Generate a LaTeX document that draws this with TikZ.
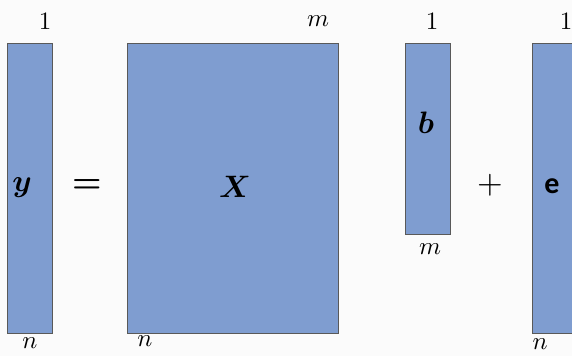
\documentclass[tikz,border=0pt]{standalone}
\usepackage{graphicx}
\usepackage{amsmath,bm}
\usepackage{fontspec}
\newfontfamily\carlito{Carlito}
\newcommand{\mainsz}[1]{\scalebox{3.1}{#1}}
\newcommand{\opsz}[1]{\scalebox{3.3}{#1}}
\newcommand{\dimsz}[1]{\scalebox{2.5}{#1}}
\begin{document}
\begin{tikzpicture}[x=1pt,y=-1pt,
  mat/.style={draw=black!65,line width=0.8pt,fill=matblue}]
\definecolor{matblue}{HTML}{7F9DD0}
\definecolor{bgcol}{HTML}{FBFBFB}
\useasboundingbox (0,0) rectangle (572,356);
\fill[bgcol] (0,0) rectangle (572,356);
\clip (0,0) rectangle (572,356);
\node[mat,minimum width=45pt,minimum height=290pt,anchor=north west,inner sep=0] (y) at (7,43) {};
\node[mat,minimum width=211pt,minimum height=290pt,anchor=north west,inner sep=0] (X) at (127,43) {};
\node[mat,minimum width=45pt,minimum height=191pt,anchor=north west,inner sep=0] (b) at (405,43) {};
\node[mat,minimum width=50pt,minimum height=290pt,anchor=north west,inner sep=0] (e) at (532,43) {};
\node (ty) at (22,188) {\mainsz{$\bm{y}$}};
\node (eq) at (87,186) {\opsz{$\bm{=}$}};
\node (tX) at (235,187) {\mainsz{$\bm{X}$}};
\node (tb) at (426,123) {\mainsz{$\bm{b}$}};
\node (pl) at (490,185) {\opsz{$+$}};
\node[font=\carlito\bfseries\fontsize{30}{34}\selectfont] (te) at (552,186) {e};
\node (l1) at (45,21) {\dimsz{$1$}};
\node (lm) at (318,21) {\dimsz{$m$}};
\node (l2) at (432,21) {\dimsz{$1$}};
\node (l3) at (566,21) {\dimsz{$1$}};
\node (ln1) at (30,343) {\dimsz{$n$}};
\node (ln2) at (145,341) {\dimsz{$n$}};
\node (lm2) at (430,249) {\dimsz{$m$}};
\node (ln3) at (540,344) {\dimsz{$n$}};
\end{tikzpicture}
\end{document}
